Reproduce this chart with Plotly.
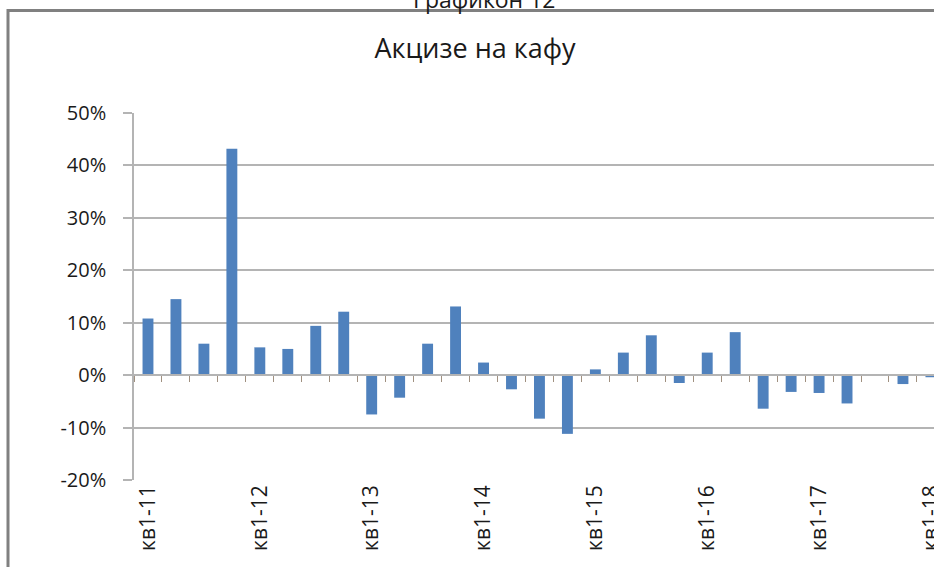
import plotly.graph_objects as go

# ---- data ----
quarters = [f"кв{q}-{y}" for y in range(11, 19) for q in range(1, 5)][:29]
values_pct = [10.8, 14.5, 6.0, 43.2, 5.3, 5.0, 9.4, 12.1,
              -7.5, -4.3, 6.0, 13.1, 2.4, -2.7, -8.3, -11.2,
              1.1, 4.3, 7.6, -1.5, 4.3, 8.2, -6.4, -3.2,
              -3.4, -5.4, 0.0, -1.7, -0.4]
y_ticks = [-0.2, -0.1, 0.0, 0.1, 0.2, 0.3, 0.4, 0.5]
y_tick_labels = ["-20%", "-10%", "0%", "10%", "20%", "30%", "40%", "50%"]
label_idx = list(range(0, len(quarters), 4))
label_text = [quarters[i] for i in label_idx]

title_text = "Акцизе на кафу"
header_text = "Графикон 12"

FONT = "Open Sans"
GRID = "#b4b4b4"
BAR = "#4f81bd"

W, H = 934, 567
ML, MR, MT, MB = 134, 0, 113, 87
plot_h = H - MT - MB
plot_w = W - ML - MR

xr = [-0.5, 28.11]
yr = [-0.2, 0.5]
zero_pos = (0 - yr[0]) / (yr[1] - yr[0])

fig = go.Figure()
fig.add_trace(go.Bar(
    x=quarters,
    y=[v / 100 for v in values_pct],
    marker=dict(color=BAR, line=dict(width=0)),
    width=0.39,
    xaxis="x",
    yaxis="y",
    showlegend=False,
))
# empty helper trace so that the label axis (x2) is drawn
fig.add_trace(go.Scatter(
    x=label_idx, y=[None] * len(label_idx),
    xaxis="x2", yaxis="y", mode="markers",
    showlegend=False, hoverinfo="skip",
))

fig.update_layout(
    width=W, height=H,
    autosize=False,
    margin=dict(l=ML, r=MR, t=MT, b=MB, autoexpand=False),
    paper_bgcolor="white",
    plot_bgcolor="white",
    font=dict(family=FONT, color="#262626"),
    title=dict(text=title_text, x=475 / W, xanchor="center",
               y=1 - 49 / H, yanchor="middle", yref="container",
               font=dict(size=27, family=FONT, color="#1a1a1a")),
    xaxis=dict(
        type="category",
        range=xr,
        anchor="free",
        position=zero_pos,
        automargin=False,
        showline=True, linecolor=GRID, linewidth=1.5,
        ticks="outside", tickson="boundaries", tickmode="linear", dtick=1,
        ticklen=6, tickcolor="#a09080", tickwidth=1,
        showticklabels=False,
        showgrid=False, zeroline=False,
    ),
    xaxis2=dict(
        type="linear",
        overlaying="x",
        anchor="y",
        side="bottom",
        range=xr,
        automargin=False,
        tickmode="array",
        tickvals=label_idx,
        ticktext=label_text,
        tickangle=-90,
        ticks="",
        ticklabeloverflow="allow",
        showline=False, showgrid=False, zeroline=False,
        tickfont=dict(size=21, family=FONT, color="#1a1a1a"),
    ),
    yaxis=dict(
        range=yr,
        automargin=False,
        tickmode="array",
        tickvals=y_ticks,
        ticktext=y_tick_labels,
        showgrid=True, gridcolor=GRID, gridwidth=1.5,
        zeroline=False,
        showline=True, linecolor=GRID, linewidth=1.5,
        ticks="outside", ticklen=9, tickcolor=GRID, tickwidth=1.5,
        ticklabelstandoff=13,
        tickfont=dict(size=20, family=FONT, color="#1a1a1a"),
    ),
    shapes=[dict(
        type="rect", xref="paper", yref="paper",
        x0=(8 - ML) / plot_w, x1=1.2,
        y0=-0.5, y1=1 + (MT - 10.5) / plot_h,
        line=dict(color="#808080", width=3),
        fillcolor="rgba(0,0,0,0)", layer="below",
    )],
    annotations=[dict(
        text=header_text, xref="paper", yref="paper",
        x=(484 - ML) / plot_w, y=1 + (MT + 1) / plot_h,
        xanchor="center", yanchor="middle", showarrow=False,
        font=dict(size=23, family=FONT, color="#1a1a1a"),
    )],
)

fig.write_html("out.html",
               config={"displayModeBar": False},
               post_script="document.body.style.margin='0';document.body.style.overflow='hidden';")
